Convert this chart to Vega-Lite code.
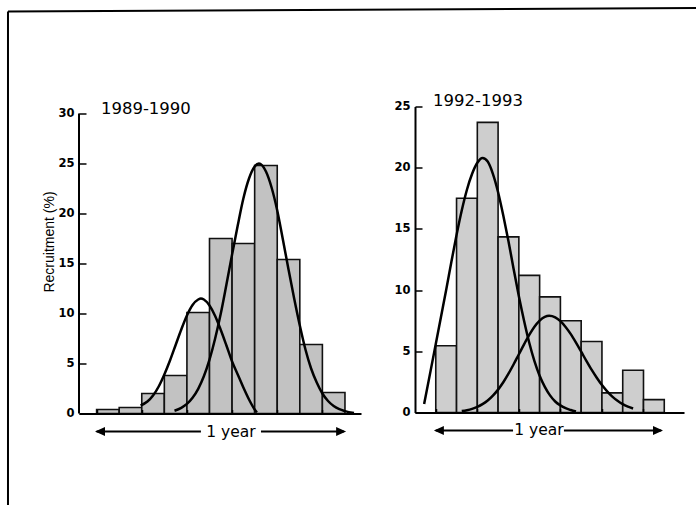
{
  "$schema": "https://vega.github.io/schema/vega-lite/v6.json",
  "background": "white",
  "padding": {"left": 6, "top": 6.5, "right": 0, "bottom": 0},
  "bounds": "flush",
  "spacing": 54,
  "config": {
    "view": {"stroke": null},
    "font": "Liberation Sans",
    "axis": {
      "grid": false,
      "tickColor": "black",
      "tickWidth": 1.5,
      "domainColor": "black",
      "domainWidth": 2,
      "labelFont": "DejaVu Sans",
      "labelFontSize": 11.5,
      "labelFontWeight": "bold",
      "labelColor": "black",
      "titleFont": "Liberation Sans",
      "titleFontSize": 14,
      "titleFontWeight": "normal",
      "titleColor": "black"
    }
  },
  "datasets": {
    "left_bars": [
      {"start": 0, "end": 1, "pct": 0.4},
      {"start": 1, "end": 2, "pct": 0.6},
      {"start": 2, "end": 3, "pct": 2.0},
      {"start": 3, "end": 4, "pct": 3.8},
      {"start": 4, "end": 5, "pct": 10.1},
      {"start": 5, "end": 6, "pct": 17.5},
      {"start": 6, "end": 7, "pct": 17.0},
      {"start": 7, "end": 8, "pct": 24.8},
      {"start": 8, "end": 9, "pct": 15.4},
      {"start": 9, "end": 10, "pct": 6.9},
      {"start": 10, "end": 11, "pct": 2.1}
    ],
    "right_bars": [
      {"start": 0, "end": 1, "pct": 5.45},
      {"start": 1, "end": 2, "pct": 17.5},
      {"start": 2, "end": 3, "pct": 23.7},
      {"start": 3, "end": 4, "pct": 14.35},
      {"start": 4, "end": 5, "pct": 11.2},
      {"start": 5, "end": 6, "pct": 9.45},
      {"start": 6, "end": 7, "pct": 7.5},
      {"start": 7, "end": 8, "pct": 5.8},
      {"start": 8, "end": 9, "pct": 1.6},
      {"start": 9, "end": 10, "pct": 3.45},
      {"start": 10, "end": 11, "pct": 1.05}
    ],
    "left_curves": [
      {"curve": "A", "pos": 1.95, "pct": 0.8},
      {"curve": "A", "pos": 2.25, "pct": 1.2},
      {"curve": "A", "pos": 2.5, "pct": 1.8},
      {"curve": "A", "pos": 2.75, "pct": 2.7},
      {"curve": "A", "pos": 3.0, "pct": 3.9},
      {"curve": "A", "pos": 3.25, "pct": 5.3},
      {"curve": "A", "pos": 3.5, "pct": 6.85},
      {"curve": "A", "pos": 3.75, "pct": 8.4},
      {"curve": "A", "pos": 4.0, "pct": 9.8},
      {"curve": "A", "pos": 4.25, "pct": 10.85},
      {"curve": "A", "pos": 4.5, "pct": 11.4},
      {"curve": "A", "pos": 4.62, "pct": 11.5},
      {"curve": "A", "pos": 4.75, "pct": 11.4},
      {"curve": "A", "pos": 5.0, "pct": 10.8},
      {"curve": "A", "pos": 5.25, "pct": 9.75},
      {"curve": "A", "pos": 5.5, "pct": 8.35},
      {"curve": "A", "pos": 5.75, "pct": 6.8},
      {"curve": "A", "pos": 6.0, "pct": 5.2},
      {"curve": "A", "pos": 6.25, "pct": 3.9},
      {"curve": "A", "pos": 6.5, "pct": 2.6},
      {"curve": "A", "pos": 6.75, "pct": 1.4},
      {"curve": "A", "pos": 7.0, "pct": 0.4},
      {"curve": "A", "pos": 7.1, "pct": 0.1},
      {"curve": "B", "pos": 3.45, "pct": 0.28},
      {"curve": "B", "pos": 3.75, "pct": 0.57},
      {"curve": "B", "pos": 4.0, "pct": 0.96},
      {"curve": "B", "pos": 4.25, "pct": 1.57},
      {"curve": "B", "pos": 4.5, "pct": 2.47},
      {"curve": "B", "pos": 4.75, "pct": 3.72},
      {"curve": "B", "pos": 5.0, "pct": 5.39},
      {"curve": "B", "pos": 5.25, "pct": 7.5},
      {"curve": "B", "pos": 5.5, "pct": 10.0},
      {"curve": "B", "pos": 5.75, "pct": 12.9},
      {"curve": "B", "pos": 6.0, "pct": 15.9},
      {"curve": "B", "pos": 6.25, "pct": 18.8},
      {"curve": "B", "pos": 6.5, "pct": 21.5},
      {"curve": "B", "pos": 6.75, "pct": 23.5},
      {"curve": "B", "pos": 7.0, "pct": 24.7},
      {"curve": "B", "pos": 7.19, "pct": 25.0},
      {"curve": "B", "pos": 7.5, "pct": 24.2},
      {"curve": "B", "pos": 7.75, "pct": 22.6},
      {"curve": "B", "pos": 8.0, "pct": 20.3},
      {"curve": "B", "pos": 8.25, "pct": 17.4},
      {"curve": "B", "pos": 8.5, "pct": 14.4},
      {"curve": "B", "pos": 8.75, "pct": 11.5},
      {"curve": "B", "pos": 9.0, "pct": 8.8},
      {"curve": "B", "pos": 9.25, "pct": 6.4},
      {"curve": "B", "pos": 9.5, "pct": 4.5},
      {"curve": "B", "pos": 9.75, "pct": 3.1},
      {"curve": "B", "pos": 10.0, "pct": 2.0},
      {"curve": "B", "pos": 10.25, "pct": 1.25},
      {"curve": "B", "pos": 10.5, "pct": 0.75},
      {"curve": "B", "pos": 10.75, "pct": 0.43},
      {"curve": "B", "pos": 11.0, "pct": 0.24},
      {"curve": "B", "pos": 11.4, "pct": 0.05}
    ],
    "right_curves": [
      {"curve": "C", "pos": -0.56, "pct": 0.7},
      {"curve": "C", "pos": -0.25, "pct": 3.4},
      {"curve": "C", "pos": 0.0, "pct": 5.6},
      {"curve": "C", "pos": 0.25, "pct": 7.8},
      {"curve": "C", "pos": 0.5, "pct": 10.0},
      {"curve": "C", "pos": 0.75, "pct": 12.3},
      {"curve": "C", "pos": 1.0, "pct": 14.5},
      {"curve": "C", "pos": 1.25, "pct": 16.5},
      {"curve": "C", "pos": 1.5, "pct": 18.2},
      {"curve": "C", "pos": 1.75, "pct": 19.5},
      {"curve": "C", "pos": 2.0, "pct": 20.4},
      {"curve": "C", "pos": 2.25, "pct": 20.8},
      {"curve": "C", "pos": 2.5, "pct": 20.5},
      {"curve": "C", "pos": 2.75, "pct": 19.5},
      {"curve": "C", "pos": 3.0, "pct": 18.0},
      {"curve": "C", "pos": 3.25, "pct": 16.1},
      {"curve": "C", "pos": 3.5, "pct": 14.0},
      {"curve": "C", "pos": 3.75, "pct": 11.7},
      {"curve": "C", "pos": 4.0, "pct": 9.5},
      {"curve": "C", "pos": 4.25, "pct": 7.5},
      {"curve": "C", "pos": 4.5, "pct": 5.7},
      {"curve": "C", "pos": 4.75, "pct": 4.2},
      {"curve": "C", "pos": 5.0, "pct": 3.0},
      {"curve": "C", "pos": 5.25, "pct": 2.1},
      {"curve": "C", "pos": 5.5, "pct": 1.4},
      {"curve": "C", "pos": 5.75, "pct": 0.9},
      {"curve": "C", "pos": 6.0, "pct": 0.58},
      {"curve": "C", "pos": 6.25, "pct": 0.35},
      {"curve": "C", "pos": 6.5, "pct": 0.2},
      {"curve": "C", "pos": 6.75, "pct": 0.08},
      {"curve": "D", "pos": 1.25, "pct": 0.12},
      {"curve": "D", "pos": 1.5, "pct": 0.19},
      {"curve": "D", "pos": 1.75, "pct": 0.3},
      {"curve": "D", "pos": 2.0, "pct": 0.46},
      {"curve": "D", "pos": 2.25, "pct": 0.68},
      {"curve": "D", "pos": 2.5, "pct": 0.98},
      {"curve": "D", "pos": 2.75, "pct": 1.38},
      {"curve": "D", "pos": 3.0, "pct": 1.87},
      {"curve": "D", "pos": 3.25, "pct": 2.47},
      {"curve": "D", "pos": 3.5, "pct": 3.17},
      {"curve": "D", "pos": 3.75, "pct": 3.94},
      {"curve": "D", "pos": 4.0, "pct": 4.76},
      {"curve": "D", "pos": 4.25, "pct": 5.57},
      {"curve": "D", "pos": 4.5, "pct": 6.34},
      {"curve": "D", "pos": 4.75, "pct": 7.01},
      {"curve": "D", "pos": 5.0, "pct": 7.51},
      {"curve": "D", "pos": 5.25, "pct": 7.82},
      {"curve": "D", "pos": 5.46, "pct": 7.9},
      {"curve": "D", "pos": 5.75, "pct": 7.77},
      {"curve": "D", "pos": 6.0, "pct": 7.46},
      {"curve": "D", "pos": 6.25, "pct": 6.99},
      {"curve": "D", "pos": 6.5, "pct": 6.4},
      {"curve": "D", "pos": 6.75, "pct": 5.71},
      {"curve": "D", "pos": 7.0, "pct": 4.97},
      {"curve": "D", "pos": 7.25, "pct": 4.22},
      {"curve": "D", "pos": 7.5, "pct": 3.5},
      {"curve": "D", "pos": 7.75, "pct": 2.84},
      {"curve": "D", "pos": 8.0, "pct": 2.24},
      {"curve": "D", "pos": 8.25, "pct": 1.73},
      {"curve": "D", "pos": 8.5, "pct": 1.3},
      {"curve": "D", "pos": 8.75, "pct": 0.96},
      {"curve": "D", "pos": 9.0, "pct": 0.68},
      {"curve": "D", "pos": 9.25, "pct": 0.48},
      {"curve": "D", "pos": 9.5, "pct": 0.33}
    ]
  },
  "hconcat": [
    {
      "width": 282,
      "height": 307,
      "layer": [
        {
          "data": {"name": "left_bars"},
          "mark": {"type": "bar", "fill": "#c2c2c2", "stroke": "#111111", "strokeWidth": 1.6},
          "encoding": {
            "x": {"field": "start", "type": "quantitative",
              "scale": {"domain": [-0.78, 11.71], "nice": false, "zero": false},
              "axis": {"values": [0, 0.5, 1, 1.5, 2, 2.5, 3, 3.5, 4, 4.5, 5, 5.5, 6, 6.5, 7, 7.5, 8, 8.5, 9, 9.5, 10, 10.5, 11, 11.5],
                "labels": false, "ticks": true, "tickSize": -4, "domain": true, "title": null, "zindex": 1}},
            "x2": {"field": "end"},
            "y": {"field": "pct", "type": "quantitative",
              "scale": {"domain": [0, 30.7], "nice": false, "zero": false},
              "axis": {"values": [0, 5, 10, 15, 20, 25, 30], "domain": false, "ticks": true, "tickSize": -7,
                "labels": true, "labelPadding": 12,
                "title": "Recruitment (%)", "titleFontSize": 14, "titleX": -30, "titleY": 135,
                "titleAngle": -90, "titleBaseline": "middle", "titleAlign": "center", "zindex": 1}},
            "y2": {"datum": 0}
          }
        },
        {
          "data": {"values": [{}]},
          "mark": {"type": "rule", "color": "black", "strokeWidth": 2},
          "encoding": {
            "x": {"datum": -0.78, "type": "quantitative"},
            "y": {"datum": 0, "type": "quantitative"},
            "y2": {"datum": 30}
          }
        },
        {
          "data": {"name": "left_curves"},
          "mark": {"type": "line", "interpolate": "monotone", "stroke": "black", "strokeWidth": 2.5},
          "encoding": {
            "x": {"field": "pos", "type": "quantitative"},
            "y": {"field": "pct", "type": "quantitative"},
            "detail": {"field": "curve", "type": "nominal"}
          }
        },
        {
          "data": {"values": [{}]},
          "mark": {"type": "text", "align": "left", "baseline": "alphabetic", "font": "DejaVu Sans", "fontSize": 16.5, "color": "black"},
          "encoding": {
            "x": {"datum": 0.19, "type": "quantitative"},
            "y": {"datum": 30.0, "type": "quantitative"},
            "text": {"value": "1989-1990"}
          }
        },
        {
          "data": {"values": [{}]},
          "mark": {"type": "rule", "color": "black", "strokeWidth": 2},
          "encoding": {
            "x": {"datum": 0.0, "type": "quantitative"},
            "x2": {"datum": 4.62},
            "y": {"datum": -1.8, "type": "quantitative"}
          }
        },
        {
          "data": {"values": [{}]},
          "mark": {"type": "rule", "color": "black", "strokeWidth": 2},
          "encoding": {
            "x": {"datum": 7.28, "type": "quantitative"},
            "x2": {"datum": 10.95},
            "y": {"datum": -1.8, "type": "quantitative"}
          }
        },
        {
          "data": {"values": [{}]},
          "mark": {"type": "point", "shape": "M0,0L1,-0.45L1,0.45Z", "filled": true, "color": "black", "opacity": 1, "size": 400},
          "encoding": {
            "x": {"datum": -0.07, "type": "quantitative"},
            "y": {"datum": -1.8, "type": "quantitative"}
          }
        },
        {
          "data": {"values": [{}]},
          "mark": {"type": "point", "shape": "M0,0L-1,-0.45L-1,0.45Z", "filled": true, "color": "black", "opacity": 1, "size": 400},
          "encoding": {
            "x": {"datum": 11.05, "type": "quantitative"},
            "y": {"datum": -1.8, "type": "quantitative"}
          }
        },
        {
          "data": {"values": [{}]},
          "mark": {"type": "text", "align": "center", "baseline": "middle", "font": "DejaVu Sans", "fontSize": 15.5, "color": "black"},
          "encoding": {
            "x": {"datum": 5.95, "type": "quantitative"},
            "y": {"datum": -1.8, "type": "quantitative"},
            "text": {"value": "1 year"}
          }
        },
        {
          "data": {"values": [{}]},
          "mark": {"type": "rule", "color": "black", "strokeWidth": 2},
          "encoding": {
            "x": {"datum": -3.925, "type": "quantitative"},
            "y": {"datum": 40.2, "type": "quantitative"},
            "y2": {"datum": -9.2}
          }
        },
        {
          "data": {"values": [{}]},
          "mark": {"type": "rule", "color": "black", "strokeWidth": 2},
          "encoding": {
            "x": {"datum": -3.925, "type": "quantitative"},
            "x2": {"datum": 26.59},
            "y": {"datum": 40.2, "type": "quantitative"},
            "y2": {"datum": 40.55}
          }
        }
      ]
    },
    {
      "width": 269,
      "height": 306,
      "layer": [
        {
          "data": {"name": "right_bars"},
          "mark": {"type": "bar", "fill": "#cecece", "stroke": "#111111", "strokeWidth": 1.6},
          "encoding": {
            "x": {"field": "start", "type": "quantitative",
              "scale": {"domain": [-1.0, 11.95], "nice": false, "zero": false},
              "axis": {"values": [0, 0.5, 1, 1.5, 2, 2.5, 3, 3.5, 4, 4.5, 5, 5.5, 6, 6.5, 7, 7.5, 8, 8.5, 9, 9.5, 10, 10.5, 11, 11.5],
                "labels": false, "ticks": true, "tickSize": -4, "domain": true, "title": null, "zindex": 1}},
            "x2": {"field": "end"},
            "y": {"field": "pct", "type": "quantitative",
              "scale": {"domain": [0, 25], "nice": false, "zero": false},
              "axis": {"values": [0, 5, 10, 15, 20, 25], "domain": true,
                "ticks": true, "tickSize": -7, "labels": true, "labelPadding": 12,
                "title": null, "zindex": 1}},
            "y2": {"datum": 0}
          }
        },
        {
          "data": {"name": "right_curves"},
          "mark": {"type": "line", "interpolate": "monotone", "stroke": "black", "strokeWidth": 2.5},
          "encoding": {
            "x": {"field": "pos", "type": "quantitative"},
            "y": {"field": "pct", "type": "quantitative"},
            "detail": {"field": "curve", "type": "nominal"}
          }
        },
        {
          "data": {"values": [{}]},
          "mark": {"type": "text", "align": "left", "baseline": "alphabetic", "font": "DejaVu Sans", "fontSize": 16.5, "color": "black"},
          "encoding": {
            "x": {"datum": -0.13, "type": "quantitative"},
            "y": {"datum": 25.08, "type": "quantitative"},
            "text": {"value": "1992-1993"}
          }
        },
        {
          "data": {"values": [{}]},
          "mark": {"type": "rule", "color": "black", "strokeWidth": 2},
          "encoding": {
            "x": {"datum": 0.0, "type": "quantitative"},
            "x2": {"datum": 3.72},
            "y": {"datum": -1.47, "type": "quantitative"}
          }
        },
        {
          "data": {"values": [{}]},
          "mark": {"type": "rule", "color": "black", "strokeWidth": 2},
          "encoding": {
            "x": {"datum": 6.17, "type": "quantitative"},
            "x2": {"datum": 10.85},
            "y": {"datum": -1.47, "type": "quantitative"}
          }
        },
        {
          "data": {"values": [{}]},
          "mark": {"type": "point", "shape": "M0,0L1,-0.45L1,0.45Z", "filled": true, "color": "black", "opacity": 1, "size": 400},
          "encoding": {
            "x": {"datum": -0.09, "type": "quantitative"},
            "y": {"datum": -1.47, "type": "quantitative"}
          }
        },
        {
          "data": {"values": [{}]},
          "mark": {"type": "point", "shape": "M0,0L-1,-0.45L-1,0.45Z", "filled": true, "color": "black", "opacity": 1, "size": 400},
          "encoding": {
            "x": {"datum": 10.94, "type": "quantitative"},
            "y": {"datum": -1.47, "type": "quantitative"}
          }
        },
        {
          "data": {"values": [{}]},
          "mark": {"type": "text", "align": "center", "baseline": "middle", "font": "DejaVu Sans", "fontSize": 15.5, "color": "black"},
          "encoding": {
            "x": {"datum": 4.97, "type": "quantitative"},
            "y": {"datum": -1.47, "type": "quantitative"},
            "text": {"value": "1 year"}
          }
        }
      ]
    }
  ]
}
